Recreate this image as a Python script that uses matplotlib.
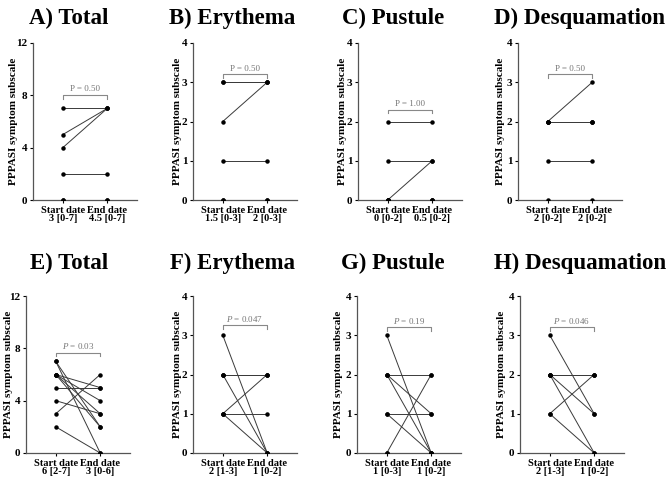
import matplotlib
matplotlib.use("Agg")
import matplotlib.pyplot as plt

plt.rcParams['font.family'] = ['Liberation Serif', 'DejaVu Serif']
plt.rcParams['mathtext.fontset'] = 'custom'
plt.rcParams['mathtext.it'] = 'Liberation Serif:italic'
plt.rcParams['mathtext.rm'] = 'Liberation Serif'

# panel titles
titles = ["A) Total", "B) Erythema", "C) Pustule", "D) Desquamation",
          "E) Total", "F) Erythema", "G) Pustule", "H) Desquamation"]

# paired scores (start date, end date) per panel
a_start = [7, 5, 4, 2, 0, 0]
a_end = [7, 7, 7, 2, 0, 0]
b_start = [3, 3, 2, 1, 0, 0]
b_end = [3, 3, 3, 1, 0, 0]
c_start = [2, 1, 0, 0, 0, 0]
c_end = [2, 1, 1, 0, 0, 0]
d_start = [2, 2, 2, 2, 1, 0]
d_end = [3, 2, 2, 2, 1, 0]
e_start = [7, 7, 6, 6, 6, 6, 5, 4, 3, 2]
e_end = [2, 0, 5, 4, 3, 2, 5, 3, 6, 0]
f_start = [3, 2, 2, 2, 1, 1, 1]
f_end = [0, 2, 2, 0, 2, 1, 0]
g_start = [3, 2, 2, 2, 1, 1, 0, 0]
g_end = [0, 2, 1, 0, 1, 0, 2, 0]
h_start = [3, 2, 2, 2, 2, 1, 1]
h_end = [1, 2, 2, 1, 0, 2, 0]

# median [range] under each tick
start_medians = ["3 [0-7]", "1.5 [0-3]", "0 [0-2]", "2 [0-2]",
                 "6 [2-7]", "2 [1-3]", "1 [0-3]", "2 [1-3]"]
end_medians = ["4.5 [0-7]", "2 [0-3]", "0.5 [0-2]", "2 [0-2]",
               "3 [0-6]", "1 [0-2]", "1 [0-2]", "1 [0-2]"]
p_values = ["0.50", "0.50", "1.00", "0.50", "0.03", "0.047", "0.19", "0.046"]
p_heights = [8.0, 3.2, 2.3, 3.2, 7.65, 3.25, 3.2, 3.2]
y_max = [12, 4, 4, 4, 12, 4, 4, 4]

starts = [a_start, b_start, c_start, d_start, e_start, f_start, g_start, h_start]
ends = [a_end, b_end, c_end, d_end, e_end, f_end, g_end, h_end]

W, H = 669, 491
fig = plt.figure(figsize=(W / 100, H / 100), dpi=100)

# axes placement in pixels: left x, top y
lefts = [33, 193, 358, 518, 26, 193, 357, 520]
tops = [43, 43, 43, 43, 296, 296, 296, 296]
ylabel_x = [18, 182, 347, 505, 13, 182, 343, 506]  # right edge of rotated label
title_x = [69, 232, 393, 580, 69, 232, 393, 580]
title_y = [18, 18, 18, 18, 263, 263, 263, 263]
ax_w, ax_h = 104, 157

for i in range(8):
    ax = fig.add_axes([lefts[i] / W, 1 - (tops[i] + ax_h) / H, ax_w / W, ax_h / H])
    for s, e in zip(starts[i], ends[i]):
        ax.plot([0, 1], [s, e], color='#3a3a3a', lw=0.7, zorder=2)
    ax.plot([0] * len(starts[i]), starts[i], 'o', color='black', ms=2.2, zorder=3)
    ax.plot([1] * len(ends[i]), ends[i], 'o', color='black', ms=2.2, zorder=3)

    ym = y_max[i]
    ax.set_xlim(-0.67, 1.67)
    ax.set_ylim(0, ym)
    ax.set_yticks(range(0, ym + 1, 4 if ym == 12 else 1))
    ax.set_xticks([0, 1])
    ax.set_xticklabels(["Start date\n" + start_medians[i], "End date\n" + end_medians[i]],
                       fontweight='bold', fontsize=7.5, linespacing=0.95)
    for lab in ax.get_yticklabels():
        lab.set_fontweight('bold')
        lab.set_fontsize(8)
    ax.tick_params(axis='both', length=2.5, width=0.8, pad=1.5)
    ax.spines['top'].set_visible(False)
    ax.spines['right'].set_visible(False)
    for side in ['left', 'bottom']:
        ax.spines[side].set_linewidth(0.9)
        ax.spines[side].set_color('#555555')
    ax.set_ylabel("PPPASI symptom subscale", fontweight='bold', fontsize=8)
    ax.yaxis.set_label_coords((ylabel_x[i] - lefts[i]) / ax_w, 0.5)

    # significance bracket
    ph = p_heights[i]
    tick = ym * 0.022
    ax.plot([0, 0, 1, 1], [ph - tick, ph, ph, ph - tick], color='#888888', lw=0.8, zorder=1)
    if i < 4:
        ptxt = "P = " + p_values[i]
    else:
        ptxt = r"$\mathit{P}$ = " + p_values[i]
    ax.text(0.5, ph + ym * 0.012, ptxt, ha='center', va='bottom', fontsize=6.5, color='#777777')

    fig.text(title_x[i] / W, 1 - title_y[i] / H, titles[i], ha='center', va='center',
             fontsize=16.5, fontweight='bold')

fig.savefig("out.png", dpi=100)
